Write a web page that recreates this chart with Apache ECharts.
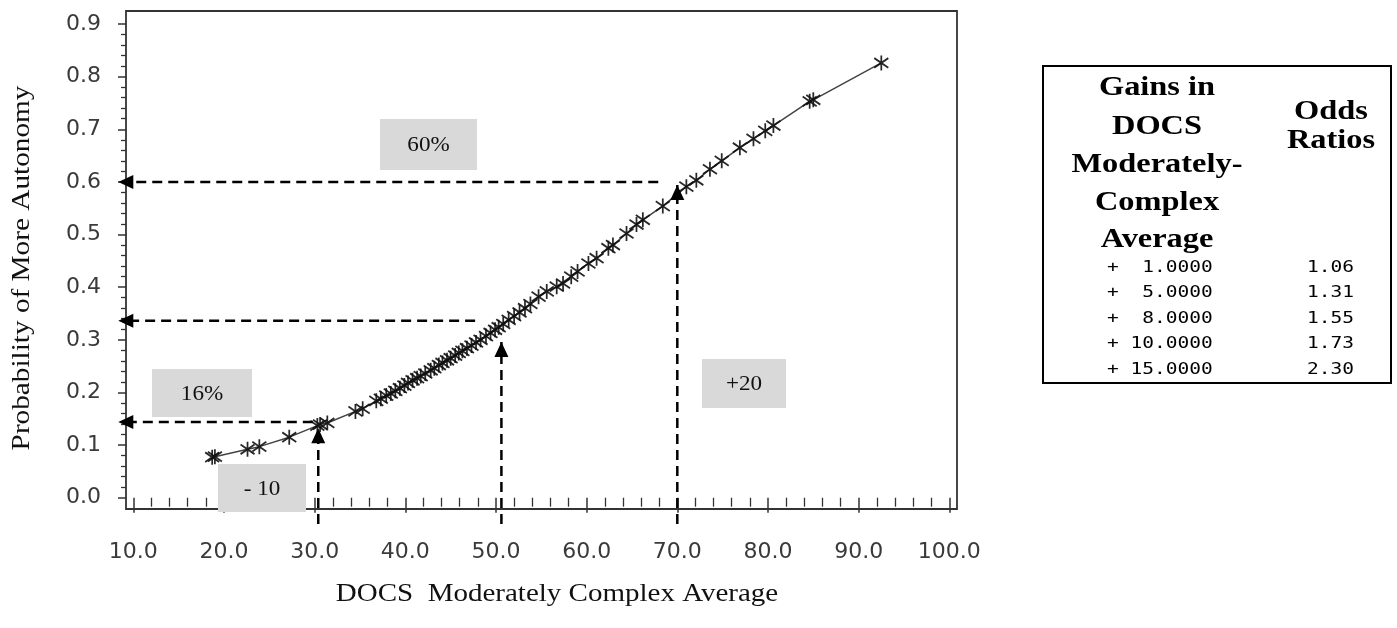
<!DOCTYPE html>
<html>
<head>
<meta charset="utf-8">
<script src="https://cdn.jsdelivr.net/npm/echarts@6/dist/echarts.min.js"></script>
<style>
html,body{margin:0;padding:0;background:#fff;}
#chart{width:1397px;height:628px;}
</style>
</head>
<body>
<div id="chart"></div>
<script>
// ---- data ----
const docsX = [18.7,19.0,22.6,23.9,27.2,30.3,30.6,31.4,34.5,35.3,36.8,37.3,37.9,38.4,38.9,39.4,39.9,40.3,40.8,41.3,41.7,42.2,42.8,43.2,43.7,44.1,44.6,45.0,45.5,45.9,46.3,46.8,47.3,47.8,48.3,48.9,49.4,49.9,50.3,50.8,51.4,52.0,52.6,53.2,53.8,54.7,55.6,56.7,57.4,58.3,59.0,60.2,61.1,62.4,62.9,64.4,65.5,66.2,68.4,71.0,72.1,73.6,74.9,76.9,78.4,79.7,80.6,84.6,85.0,92.5];
const probY = [0.077,0.078,0.092,0.097,0.115,0.137,0.139,0.142,0.164,0.169,0.184,0.188,0.194,0.198,0.203,0.208,0.213,0.218,0.223,0.227,0.231,0.236,0.242,0.246,0.252,0.256,0.261,0.265,0.270,0.275,0.279,0.284,0.289,0.295,0.300,0.307,0.313,0.319,0.324,0.330,0.338,0.345,0.352,0.360,0.368,0.382,0.392,0.401,0.407,0.420,0.430,0.445,0.455,0.474,0.480,0.502,0.519,0.528,0.554,0.591,0.603,0.624,0.640,0.665,0.682,0.697,0.707,0.753,0.756,0.826];
const xTicks = [10,20,30,40,50,60,70,80,90,100];
const yTicks = [0.0,0.1,0.2,0.3,0.4,0.5,0.6,0.7,0.8,0.9];
// guide arrows: [from, tip]
const guideH = [ [[67.9,0.600],[8.4,0.600]], [[47.7,0.336],[8.4,0.336]], [[29.8,0.144],[8.4,0.144]] ];
const guideV = [ [[30.4,-0.05],[30.4,0.132]], [[50.6,-0.05],[50.6,0.296]], [[70.0,-0.05],[70.0,0.594]] ];
const tableLeft = ['+  1.0000','+  5.0000','+  8.0000','+ 10.0000','+ 15.0000'];
const tableRight = ['1.06','1.31','1.55','1.73','2.30'];
const headLeft = ['Gains in','DOCS','Moderately-','Complex','Average'];
const headRight = ['Odds','Ratios'];
const boxLabels = ['60%','16%','- 10','+20'];

const pts = docsX.map((x,i)=>[x, probY[i]]);
const star = 'path://M0,-7L0,7M-6,-4.5L6,4.5M-6,4.5L6,-4.5';

const series = [];
series.push({type:'line', xAxisIndex:1, yAxisIndex:1, data:pts, symbol:'none', lineStyle:{color:'#444', width:1.5}, z:3, silent:true});
series.push({type:'scatter', xAxisIndex:1, yAxisIndex:1, data:pts, symbol:star, symbolSize:[14,15],
  itemStyle:{color:'#111', borderColor:'#111', borderWidth:1.8, opacity:0.9}, z:4});
const dash = {color:'#000', width:2.5, type:[10,6]};
guideH.forEach(g=>{
  series.push({type:'line', xAxisIndex:1, yAxisIndex:1, clip:false, z:5,
    data:[{value:g[0], symbol:'none'}, {value:g[1], symbol:'triangle', symbolSize:[14,15], symbolRotate:90, symbolOffset:['50%',0]}],
    lineStyle:dash, itemStyle:{color:'#000'}});
});
guideV.forEach(g=>{
  series.push({type:'line', xAxisIndex:1, yAxisIndex:1, clip:false, z:5,
    data:[{value:g[0], symbol:'none'}, {value:g[1], symbol:'triangle', symbolSize:[14,15], symbolOffset:[0,'50%']}],
    lineStyle:dash, itemStyle:{color:'#000'}});
});

const serif = '"Liberation Serif","Times New Roman",serif';
const graphics = [];
function box(x,y,w,h,label){
  graphics.push({type:'rect', shape:{x:x,y:y,width:w,height:h}, style:{fill:'#d9d9d9'}, z:10});
  graphics.push({type:'text', x:x+w/2, y:y+h/2+1, scaleX:1.1, style:{text:label, font:'21px '+serif, fill:'#111', textAlign:'center', textVerticalAlign:'middle'}, z:11});
}
box(380,119,97,51,boxLabels[0]);
box(152,369,100,48,boxLabels[1]);
box(218,464,88,48,boxLabels[2]);
box(702,359,84,49,boxLabels[3]);
// axis titles
graphics.push({type:'text', x:557, y:594, scaleX:1.16, style:{text:'DOCS  Moderately Complex Average', font:'25px '+serif, fill:'#111', textAlign:'center', textVerticalAlign:'middle'}});
graphics.push({type:'text', x:22, y:268, rotation:Math.PI/2, scaleX:1.17, style:{text:'Probability of More Autonomy', font:'25px '+serif, fill:'#111', textAlign:'center', textVerticalAlign:'middle'}});
// table
graphics.push({type:'rect', shape:{x:1043,y:66,width:348,height:317}, style:{fill:'none', stroke:'#000', lineWidth:2}});
const headYs = [88,127,165,203,240];
headLeft.forEach((t,i)=>graphics.push({type:'text', x:1157, y:headYs[i], scaleX:1.2, style:{text:t, font:'bold 27px '+serif, fill:'#000', textAlign:'center', textVerticalAlign:'middle'}}));
[112,141].forEach((yy,i)=>graphics.push({type:'text', x:1331, y:yy, scaleX:1.2, style:{text:headRight[i], font:'bold 27px '+serif, fill:'#000', textAlign:'center', textVerticalAlign:'middle'}}));
const rowYs = [268,293,319,344,370];
tableLeft.forEach((t,i)=>graphics.push({type:'text', x:1107, y:rowYs[i], scaleX:1.22, style:{text:t, font:'16px "DejaVu Sans Mono",monospace', fill:'#000', textAlign:'left', textVerticalAlign:'middle'}}));
tableRight.forEach((t,i)=>graphics.push({type:'text', x:1307, y:rowYs[i], scaleX:1.22, style:{text:t, font:'16px "DejaVu Sans Mono",monospace', fill:'#000', textAlign:'left', textVerticalAlign:'middle'}}));

const tickFont = {fontFamily:'"DejaVu Sans",sans-serif', fontSize:22, color:'#3a3a3a'};
const option = {
  backgroundColor:'#fff',
  animation:false,
  grid:[
    {left:126, top:11, width:831, height:498, show:true, borderColor:'#333', borderWidth:1.8, backgroundColor:'transparent'},
    {left:133.3, top:24, width:816, height:473.7, show:false}
  ],
  xAxis:[
    {gridIndex:0, type:'value', show:false, min:0, max:1},
    {gridIndex:1, type:'value', min:xTicks[0], max:xTicks[xTicks.length-1], interval:10, offset:11.3,
      axisLine:{show:false}, splitLine:{show:false},
      axisTick:{show:true, length:15, lineStyle:{color:'#333', width:1.5}},
      minorTick:{show:true, splitNumber:5, length:9, lineStyle:{color:'#333', width:1.3}},
      axisLabel:Object.assign({margin:32, formatter:v=>v.toFixed(1)}, tickFont)}
  ],
  yAxis:[
    {gridIndex:0, type:'value', show:false, min:0, max:1},
    {gridIndex:1, type:'value', min:yTicks[0], max:yTicks[yTicks.length-1], interval:0.1, offset:7.3,
      axisLine:{show:false}, splitLine:{show:false},
      axisTick:{show:true, length:8, lineStyle:{color:'#333', width:1.5}},
      minorTick:{show:true, splitNumber:5, length:5, lineStyle:{color:'#333', width:1.3}},
      axisLabel:Object.assign({margin:25, formatter:v=>v.toFixed(1)}, tickFont)}
  ],
  series:series,
  graphic:graphics
};
const chart = echarts.init(document.getElementById('chart'), null, {renderer:'canvas'});
chart.setOption(option);
</script>
</body>
</html>
